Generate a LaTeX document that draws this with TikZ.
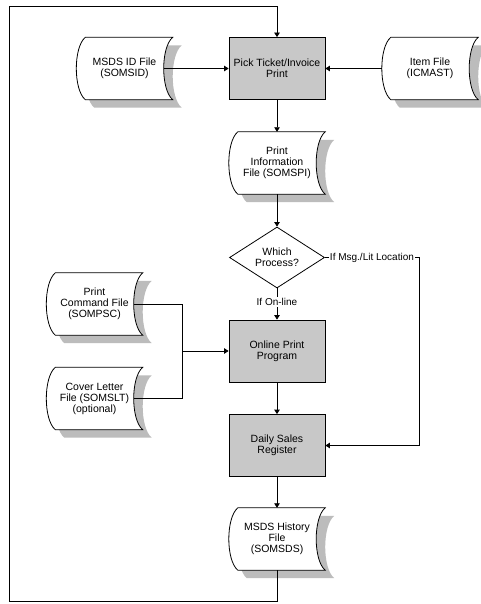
\documentclass[tikz,border=0pt]{standalone}
\usepackage{fontspec}
\setmainfont{Liberation Sans}
\usetikzlibrary{shapes.geometric,arrows.meta,calc,backgrounds}
\definecolor{boxgray}{RGB}{200,200,200}
\definecolor{shadegray}{RGB}{188,188,188}
\newcommand{\filefig}[1]{%
  \fill[shadegray] ($(#1.north west)+(18,8)$) -- ($(#1.north east)+(9,8)$)
    .. controls ($(#1.north east)+(-3,18)$) and ($(#1.south east)+(-3,-2)$) .. ($(#1.south east)+(9,8)$)
    -- ($(#1.south west)+(18,8)$)
    .. controls ($(#1.south west)+(6,-2)$) and ($(#1.north west)+(6,18)$) .. cycle;
  \draw[fill=white,line width=0.8pt] ($(#1.north west)+(9,0)$) -- (#1.north east)
    .. controls ($(#1.north east)+(-12,10)$) and ($(#1.south east)+(-12,-10)$) .. (#1.south east)
    -- ($(#1.south west)+(9,0)$)
    .. controls ($(#1.south west)+(-3,-10)$) and ($(#1.north west)+(-3,10)$) .. cycle;}
\begin{document}
\begin{tikzpicture}[x=1pt,y=-1pt,
  every node/.style={font=\fontsize{10.5}{11}\selectfont, align=center, inner sep=0pt},
  proc/.style={draw, line width=0.8pt, fill=boxgray, minimum width=96pt, minimum height=62pt},
  filebox/.style={minimum width=96pt, minimum height=62pt},
  dec/.style={draw, line width=0.8pt, diamond, fill=white, aspect=1.56, minimum width=95pt, minimum height=61pt},
  arr/.style={-{Triangle[length=4.5pt,width=5.5pt]}},
  ln/.style={line width=0.8pt},
  lbl/.style={fill=white, inner sep=1pt, font=\fontsize{10}{11}\selectfont}]
\useasboundingbox (0,0) rectangle (480,604);
% nodes
\node[proc] (pick) at (277,68.5) {Pick Ticket/Invoice\\Print};
\node[filebox] (msdsid) at (124.5,68.5) {MSDS ID File\\(SOMSID)};
\node[filebox] (item) at (430,68.5) {Item File\\(ICMAST)};
\node[filebox] (pinfo) at (277,163) {Print\\Information\\File (SOMSPI)};
\node[dec] (dec) at (277,257.5) {Which\\Process?};
\node[proc] (online) at (277,351) {Online Print\\Program};
\node[proc] (daily) at (277,445.5) {Daily Sales\\Register};
\node[filebox] (hist) at (277,539) {MSDS History\\File\\(SOMSDS)};
\node[filebox] (pcmd) at (94.5,304) {Print\\Command File\\(SOMPSC)};
\node[filebox] (cover) at (94.5,398.5) {Cover Letter\\File (SOMSLT)\\(optional)};
\begin{pgfonlayer}{background}
\fill[white] (0,0) rectangle (480,604);
\filefig{msdsid}
\filefig{item}
\filefig{pinfo}
\filefig{hist}
\filefig{pcmd}
\filefig{cover}
\end{pgfonlayer}
% coordinates
\coordinate (ll) at (9,601);
\coordinate (lt) at (9,6);
\coordinate (rc) at (419,257.5);
\coordinate (jn) at (182,351);
% connectors
\draw[ln,arr] (hist.south) |- (ll) -- (lt) -| (pick.north);
\draw[ln,arr] ([xshift=-9pt]msdsid.east) -- (pick.west);
\draw[ln,arr] (item.west) -- (pick.east);
\draw[ln,arr] (pick.south) -- (pinfo.north);
\draw[ln,arr] (pinfo.south) -- (dec.north);
\draw[ln,arr] (dec.south) -- (online.north);
\node[lbl] (lonl) at (277,302) {If On-line};
\draw[ln,arr] (dec.east) -- (rc) |- (daily.east);
\node[lbl] (lmsg) at ($(dec.east)!0.5!(rc)$) {If Msg./Lit Location};
\draw[ln] ([xshift=-9pt]pcmd.east) -| (jn);
\draw[ln] ([xshift=-9pt]cover.east) -| (jn);
\draw[ln,arr] (jn) -- (online.west);
\draw[ln,arr] (online.south) -- (daily.north);
\draw[ln,arr] (daily.south) -- (hist.north);
\end{tikzpicture}
\end{document}
